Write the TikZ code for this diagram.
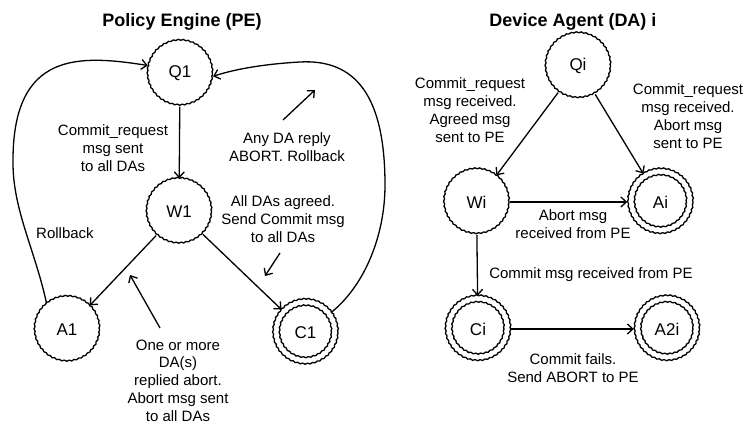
\documentclass[tikz,border=0pt]{standalone}
\usepackage{fontspec}
\setmainfont{Liberation Sans}
\usetikzlibrary{arrows.meta,decorations.pathmorphing}
\begin{document}
\begin{tikzpicture}[x=1pt,y=1pt,
 lbl/.style={align=center,font=\fontsize{15}{17.8}\selectfont,inner sep=0pt},
 ttl/.style={font=\fontsize{18}{22}\selectfont\bfseries,inner sep=0pt},
 st/.style={circle,minimum size=66pt,inner sep=0pt,font=\fontsize{17}{20}\selectfont},
 wavy/.style={line width=1.3pt,decorate,decoration={snake,segment length=5pt,amplitude=0.5pt}},
 arr/.style={line width=1.3pt,-{Straight Barb[length=5.5pt,width=10pt]}}]
\useasboundingbox (0,0) rectangle (747,425);
% titles
\node[ttl] (t1) at (182,403) {Policy Engine (PE)};
\node[ttl] (t2) at (573,403) {Device Agent (DA) i};
% states PE
\node[st] (Q1) at (180,351.5) {Q1};
\node[st] (W1) at (179,213.5) {W1};
\node[st] (A1) at (67,95.5) {A1};
\node[st] (C1) at (305.5,92.5) {C1};
% states DA
\node[st] (Qi) at (578,359) {Qi};
\node[st] (Wi) at (476.5,223) {Wi};
\node[st] (Ai) at (660.5,223) {Ai};
\node[st] (Ci) at (478,96) {Ci};
\node[st] (A2i) at (667,96) {A2i};
% borders
\foreach \n in {Q1,W1,A1,C1,Qi,Wi,Ai,Ci,A2i}
  \draw[wavy] (\n.center) circle (32.5pt);
\foreach \n in {C1,Ai,Ci,A2i}
  \draw[wavy] (\n.center) circle (26pt);
% PE connectors
\draw[arr] (Q1) -- (W1);
\draw[arr] (W1) -- (A1);
\draw[arr] (W1) -- (C1);
\draw[arr] (A1.128) .. controls (35,175) and (13,215) .. (13,262)
  .. controls (12,375) and (80,370) .. (Q1.166);
\draw[arr] (C1.38) .. controls (365,140) and (385,190) .. (385,240)
  .. controls (385,330) and (355,366) .. (300,363)
  .. controls (265,361) and (235,356) .. (Q1.-5);
% PE labels
\node[lbl] (l1) at (113,277) {Commit\_request\\msg sent\\to all DAs};
\node[lbl] (l2) at (287,278) {Any DA reply\\ABORT. Rollback};
\node[lbl] (l3) at (283,206) {All DAs agreed.\\Send Commit msg\\to all DAs};
\node[lbl] (l4) at (65,192) {Rollback};
\node[lbl] (l5) at (178,44.5) {One or more\\DA(s)\\replied abort.\\Abort msg sent\\to all DAs};
\coordinate (p1s) at (283,305); \coordinate (p1e) at (315,335);
\coordinate (p2s) at (280,172); \coordinate (p2e) at (265,149);
\coordinate (p3s) at (160,97);  \coordinate (p3e) at (130,150);
\draw[arr] (p1s) -- (p1e);
\draw[arr] (p2s) -- (p2e);
\draw[arr] (p3s) -- (p3e);
% DA connectors
\draw[arr] (Qi) -- (Wi);
\draw[arr] (Qi) -- (Ai);
\draw[arr] (Wi) -- (Ai);
\draw[arr] (Wi) -- (Ci);
\draw[arr] (Ci) -- (A2i);
% DA labels
\node[lbl] (m1) at (470,315) {Commit\_request\\msg received.\\Agreed msg\\sent to PE};
\node[lbl] (m2) at (688,309) {Commit\_request\\msg received.\\Abort msg\\sent to PE};
\node[lbl] (m3) at (573,201) {Abort msg\\received from PE};
\node[lbl] (m4) at (591,150) {Commit msg received from PE};
\node[lbl] (m5) at (573,57) {Commit fails.\\Send ABORT to PE};
\end{tikzpicture}
\end{document}
